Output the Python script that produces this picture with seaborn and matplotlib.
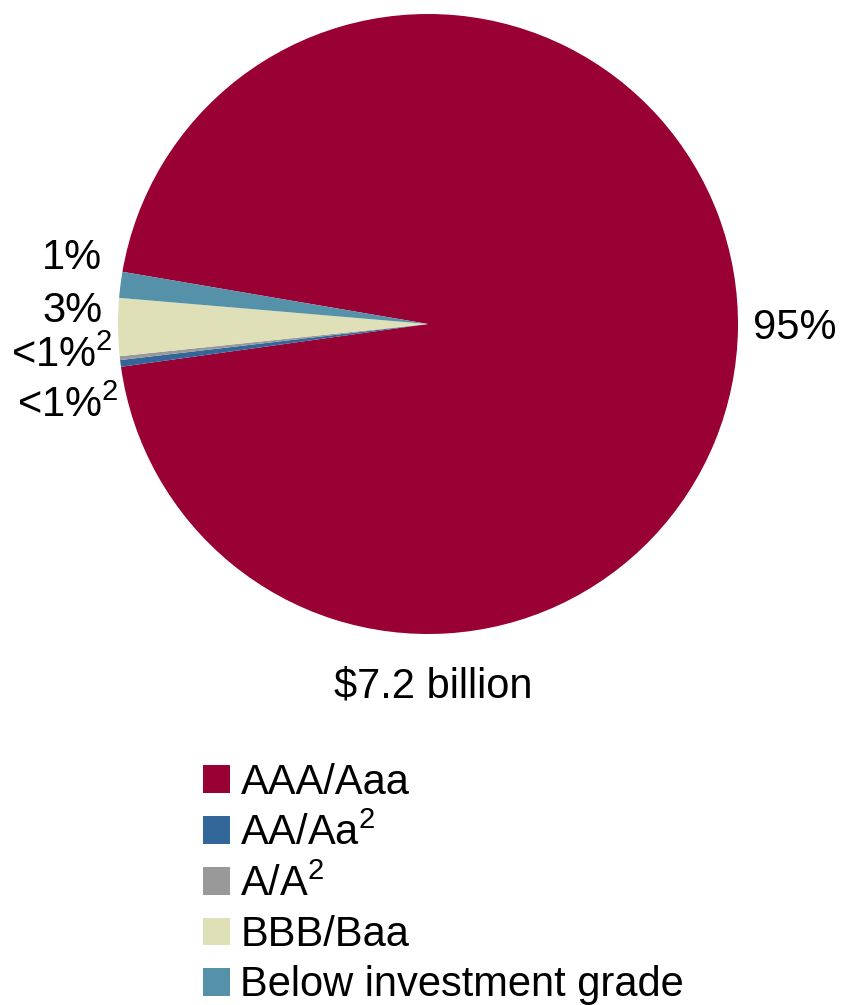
import matplotlib
matplotlib.use("Agg")
import matplotlib.pyplot as plt
import seaborn as sns

sns.set_theme(style="white")
plt.rcParams['font.family'] = ['Liberation Sans', 'DejaVu Sans']
plt.rcParams['mathtext.fontset'] = 'custom'
plt.rcParams['mathtext.rm'] = 'Liberation Sans'
plt.rcParams['mathtext.it'] = 'Liberation Sans'
plt.rcParams['text.color'] = 'black'
plt.rcParams['legend.labelcolor'] = 'black'

categories = ["AAA/Aaa", "AA/Aa$^{\\mathrm{2}}$", "A/A$^{\\mathrm{2}}$", "BBB/Baa", "Below investment grade"]
values = [95.1, 0.35, 0.2, 3.0, 1.35]
slice_labels = ["95%", "<1%$^{\\mathrm{2}}$", "<1%$^{\\mathrm{2}}$", "3%", "1%"]
colors = ["#990033", "#336699", "#999999", "#E0E0B8", "#5591A8"]
total_label = "$7.2 billion"

W, H = 842, 1005
fig = plt.figure(figsize=(W / 100, H / 100), dpi=100)
cx, cy, r = 428, 324, 310
ax = fig.add_axes([(cx - r) / W, (H - cy - r) / H, 2 * r / W, 2 * r / H])

wedges, _ = ax.pie(values, colors=colors, startangle=170.3, counterclock=False,
                   wedgeprops=dict(linewidth=0))
ax.set_xlim(-1, 1)
ax.set_ylim(-1, 1)
ax.set_aspect("equal")
ax.axis("off")

def px(x, y):
    return (x - cx) / r, (cy - y) / r

label_pos = [(795, 328), (68, 406), (62, 356), (72, 311), (72, 258)]
for lab, (x, y) in zip(slice_labels, label_pos):
    dx, dy = px(x, y)
    ax.text(dx, dy, lab, ha="center", va="center", fontsize=30, color="black",
            clip_on=False)

tx, ty = px(433, 686)
ax.text(tx, ty, total_label, ha="center", va="center", fontsize=30,
        color="black", clip_on=False)

leg = fig.legend(wedges, categories, loc="upper left",
                 bbox_to_anchor=(203 / W, 1 - 763 / H), frameon=False,
                 fontsize=30, handlelength=0.65, handleheight=0.65,
                 handletextpad=0.25, labelspacing=0.25, borderpad=0,
                 borderaxespad=0)
for t in leg.get_texts():
    t.set_color("black")

fig.savefig("out.png", dpi=100)
